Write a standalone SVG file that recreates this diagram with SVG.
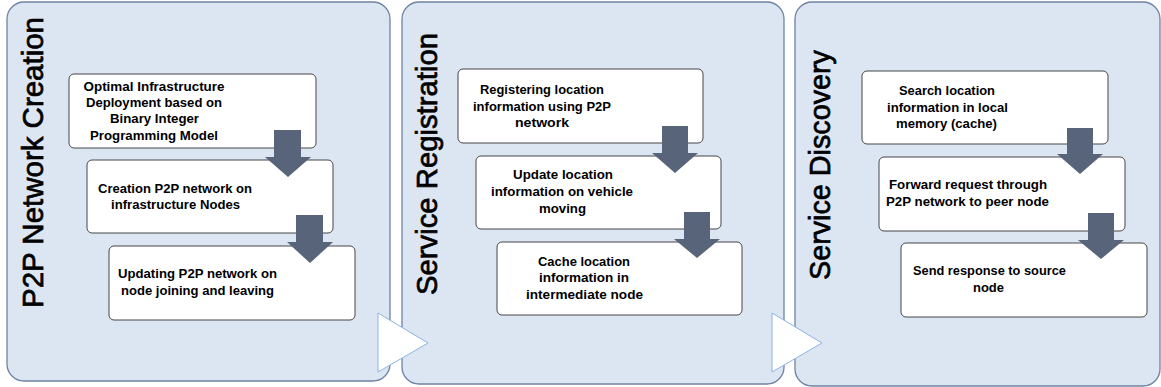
<svg xmlns="http://www.w3.org/2000/svg" width="1161" height="387" viewBox="0 0 1161 387">
<style>
.panel{fill:#dce6f2;stroke:#6f83a3;stroke-width:1.3}
.title{font-family:"Liberation Sans",Arial,sans-serif;font-size:29.5px;fill:#000;stroke:#000;stroke-width:0.7}
.box{fill:#fff;stroke:#474747;stroke-width:1}
.t{font-family:"Liberation Sans",Arial,sans-serif;font-size:13px;font-weight:bold;fill:#000;text-anchor:middle}
.arr{fill:#586479;stroke:none}
.chev{fill:#fff;stroke:#8db3e2;stroke-width:1}
</style>
<g id="panel-p2p">
<rect class="panel" x="7" y="2" width="383" height="379" rx="17"/>
<text class="title" transform="translate(43,308) rotate(-90)" textLength="291" lengthAdjust="spacingAndGlyphs">P2P Network Creation</text>
</g>
<g id="panel-registration">
<rect class="panel" x="402" y="2" width="382" height="382" rx="17"/>
<text class="title" transform="translate(437,295) rotate(-90)" textLength="262" lengthAdjust="spacingAndGlyphs">Service Registration</text>
</g>
<g id="panel-discovery">
<rect class="panel" x="795" y="2" width="365" height="384" rx="17"/>
<text class="title" transform="translate(830,280) rotate(-90)" textLength="230" lengthAdjust="spacingAndGlyphs">Service Discovery</text>
</g>
<g id="connectors-flow">
<polygon class="chev" points="378,313 428,343 378,372"/>
<polygon class="chev" points="772,313 822,343 772,372"/>
</g>
<g id="node-optimal">
<rect class="box" x="69" y="74" width="247" height="74" rx="5"/>
<text class="t" x="154" y="90.5" textLength="141" lengthAdjust="spacingAndGlyphs">Optimal Infrastructure</text>
<text class="t" x="154" y="107" textLength="136" lengthAdjust="spacingAndGlyphs">Deployment based on</text>
<text class="t" x="154.5" y="123.3" textLength="89" lengthAdjust="spacingAndGlyphs">Binary Integer</text>
<text class="t" x="154" y="139.5" textLength="128" lengthAdjust="spacingAndGlyphs">Programming Model</text>
</g>
<g id="node-creation">
<rect class="box" x="87" y="160" width="246" height="73" rx="5"/>
<text class="t" x="175" y="192.7" textLength="154" lengthAdjust="spacingAndGlyphs">Creation P2P network on</text>
<text class="t" x="175.5" y="209" textLength="129" lengthAdjust="spacingAndGlyphs">infrastructure Nodes</text>
</g>
<g id="node-updating">
<rect class="box" x="109" y="246" width="246" height="74" rx="5"/>
<text class="t" x="197.5" y="278" textLength="159" lengthAdjust="spacingAndGlyphs">Updating P2P network on</text>
<text class="t" x="197.5" y="294.7" textLength="153" lengthAdjust="spacingAndGlyphs">node joining and leaving</text>
</g>
<g id="node-registering">
<rect class="box" x="458" y="69" width="245" height="74" rx="5"/>
<text class="t" x="542" y="94.3" textLength="124" lengthAdjust="spacingAndGlyphs">Registering location</text>
<text class="t" x="542" y="111" textLength="138" lengthAdjust="spacingAndGlyphs">information using P2P</text>
<text class="t" x="542" y="127.3" textLength="54" lengthAdjust="spacingAndGlyphs">network</text>
</g>
<g id="node-update">
<rect class="box" x="476" y="156" width="245" height="73" rx="5"/>
<text class="t" x="563" y="179.3" textLength="100" lengthAdjust="spacingAndGlyphs">Update location</text>
<text class="t" x="562" y="196" textLength="142" lengthAdjust="spacingAndGlyphs">information on vehicle</text>
<text class="t" x="562.5" y="212.5" textLength="47" lengthAdjust="spacingAndGlyphs">moving</text>
</g>
<g id="node-cache">
<rect class="box" x="497" y="242" width="245" height="73" rx="5"/>
<text class="t" x="584" y="265.7" textLength="92" lengthAdjust="spacingAndGlyphs">Cache location</text>
<text class="t" x="584" y="282.3" textLength="90" lengthAdjust="spacingAndGlyphs">information in</text>
<text class="t" x="584.5" y="299" textLength="117" lengthAdjust="spacingAndGlyphs">intermediate node</text>
</g>
<g id="node-search">
<rect class="box" x="862" y="71" width="246" height="73" rx="5"/>
<text class="t" x="947" y="95" textLength="96" lengthAdjust="spacingAndGlyphs">Search location</text>
<text class="t" x="947.5" y="111.7" textLength="121" lengthAdjust="spacingAndGlyphs">information in local</text>
<text class="t" x="946.5" y="127.8" textLength="101" lengthAdjust="spacingAndGlyphs">memory (cache)</text>
</g>
<g id="node-forward">
<rect class="box" x="879" y="157" width="246" height="74" rx="5"/>
<text class="t" x="968" y="189" textLength="158" lengthAdjust="spacingAndGlyphs">Forward request through</text>
<text class="t" x="967.5" y="205.7" textLength="163" lengthAdjust="spacingAndGlyphs">P2P network to peer node</text>
</g>
<g id="node-send">
<rect class="box" x="901" y="243" width="246" height="74" rx="5"/>
<text class="t" x="989.5" y="275" textLength="153" lengthAdjust="spacingAndGlyphs">Send response to source</text>
<text class="t" x="988.5" y="291.7" textLength="31" lengthAdjust="spacingAndGlyphs">node</text>
</g>
<g id="connectors">
<polygon class="arr" points="274,130 301,130 301,157 311,157 288,177 265,157 274,157"/>
<polygon class="arr" points="296,215 323,215 323,242 333,242 310,263 287,242 296,242"/>
<polygon class="arr" points="662,126 688,126 688,153 698,153 675,173 652,153 662,153"/>
<polygon class="arr" points="684,212 710,212 710,239 720,239 697,258 674,239 684,239"/>
<polygon class="arr" points="1067,128 1093,128 1093,154 1103,154 1080,174 1057,154 1067,154"/>
<polygon class="arr" points="1088,213 1114,213 1114,240 1124,240 1101,259 1078,240 1088,240"/>
</g>
</svg>
